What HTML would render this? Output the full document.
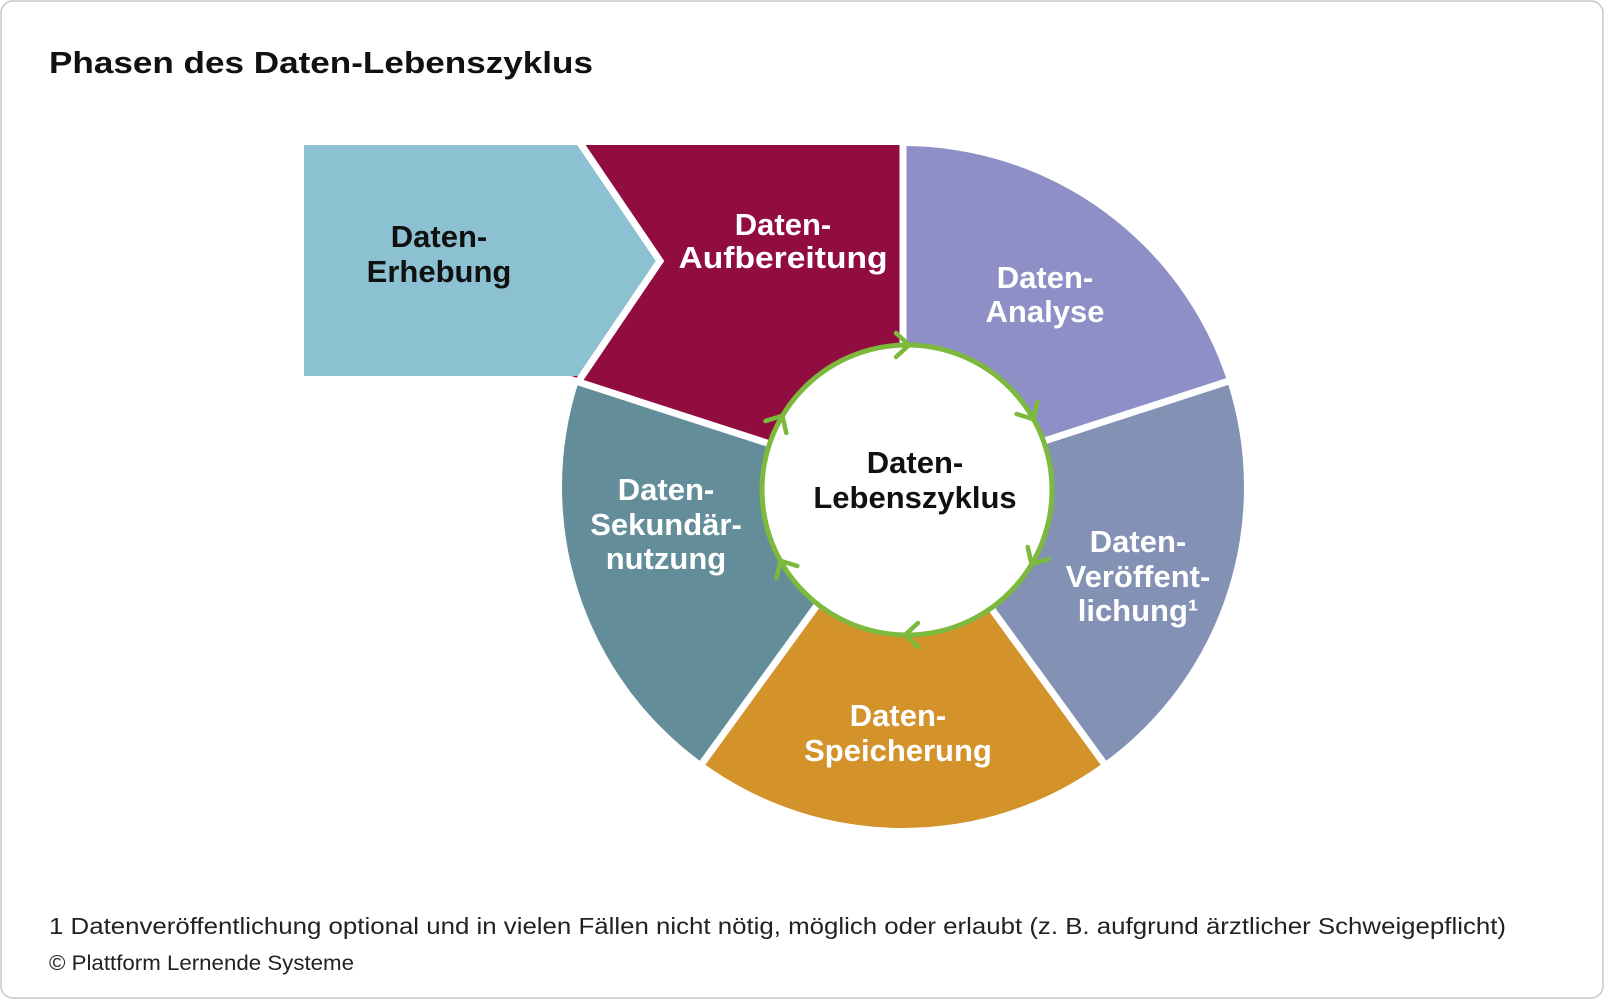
<!DOCTYPE html>
<html><head><meta charset="utf-8"><style>
html,body{margin:0;padding:0;background:#fff;}
svg{display:block;}
text{font-family:"Liberation Sans",sans-serif;}
</style></head><body>
<svg width="1604" height="1000" viewBox="0 0 1604 1000" xmlns="http://www.w3.org/2000/svg">
<rect x="1" y="1" width="1602" height="997" rx="12" fill="#fff" stroke="#c8c8c8" stroke-width="1.5"/>
<text x="49" y="73" font-size="31" font-weight="bold" fill="#111" textLength="544" lengthAdjust="spacingAndGlyphs">Phasen des Daten-Lebenszyklus</text>

<polygon points="578,145 903,145 903,487 560,376 578,376 660,261" fill="#910D40"/>
<path d="M903,487 L903,146 A341,341 0 0 1 1227.3,381.6 Z" fill="#8F8FC7"/>
<path d="M903,487 L1227.3,381.6 A341,341 0 0 1 1103.4,762.9 Z" fill="#8391B4"/>
<path d="M903,487 L1103.4,762.9 A341,341 0 0 1 702.6,762.9 Z" fill="#D3922A"/>
<path d="M903,487 L702.6,762.9 A341,341 0 0 1 578.7,381.6 Z" fill="#638D99"/>
<g stroke="#fff" stroke-width="7">
<line x1="903" y1="487" x2="903" y2="140"/>
<line x1="903" y1="487" x2="1235" y2="379"/>
<line x1="903" y1="487" x2="1108" y2="769"/>
<line x1="903" y1="487" x2="698" y2="769"/>
<line x1="903" y1="487" x2="560" y2="376"/>
</g>
<polygon points="304,145 578,145 660,261 578,376 304,376" fill="#8BC1D1"/>
<polyline points="578,140 660,261 578,382" fill="none" stroke="#fff" stroke-width="7"/>

<circle cx="907" cy="490" r="145" fill="#fff" stroke="#7DB93C" stroke-width="5"/>
<g fill="none" stroke="#7DB93C" stroke-width="4.5" stroke-linecap="round">
<path d="M-11,-12 L2,0 L-11,12" transform="translate(907,345)"/>
<path d="M-11,-12 L2,0 L-11,12" transform="translate(1032.6,417.5) rotate(60)"/>
<path d="M-11,-12 L2,0 L-11,12" transform="translate(1032.6,562.5) rotate(120)"/>
<path d="M-11,-12 L2,0 L-11,12" transform="translate(907,635) rotate(180)"/>
<path d="M-11,-12 L2,0 L-11,12" transform="translate(781.4,562.5) rotate(240)"/>
<path d="M-11,-12 L2,0 L-11,12" transform="translate(781.4,417.5) rotate(300)"/>
</g>

<g font-size="31" font-weight="bold" text-anchor="middle">
<text x="439" y="247" fill="#111">Daten-</text>
<text x="439" y="282" fill="#111">Erhebung</text>
<text x="783" y="235" fill="#fff">Daten-</text>
<text x="783" y="268" fill="#fff" textLength="209" lengthAdjust="spacingAndGlyphs">Aufbereitung</text>
<text x="1045" y="288" fill="#fff">Daten-</text>
<text x="1045" y="322" fill="#fff">Analyse</text>
<text x="915" y="473" fill="#111">Daten-</text>
<text x="915" y="508" fill="#111">Lebenszyklus</text>
<text x="1138" y="552" fill="#fff">Daten-</text>
<text x="1138" y="587" fill="#fff">Veröffent-</text>
<text x="1138" y="621" fill="#fff">lichung¹</text>
<text x="898" y="726" fill="#fff">Daten-</text>
<text x="898" y="761" fill="#fff">Speicherung</text>
<text x="666" y="500" fill="#fff">Daten-</text>
<text x="666" y="535" fill="#fff">Sekundär-</text>
<text x="666" y="569" fill="#fff">nutzung</text>
</g>

<text x="49" y="934" font-size="23" fill="#222" textLength="1457" lengthAdjust="spacingAndGlyphs">1 Datenveröffentlichung optional und in vielen Fällen nicht nötig, möglich oder erlaubt (z. B. aufgrund ärztlicher Schweigepflicht)</text>
<text x="49" y="970" font-size="21" fill="#222" textLength="305" lengthAdjust="spacingAndGlyphs">© Plattform Lernende Systeme</text>
</svg>
</body></html>
